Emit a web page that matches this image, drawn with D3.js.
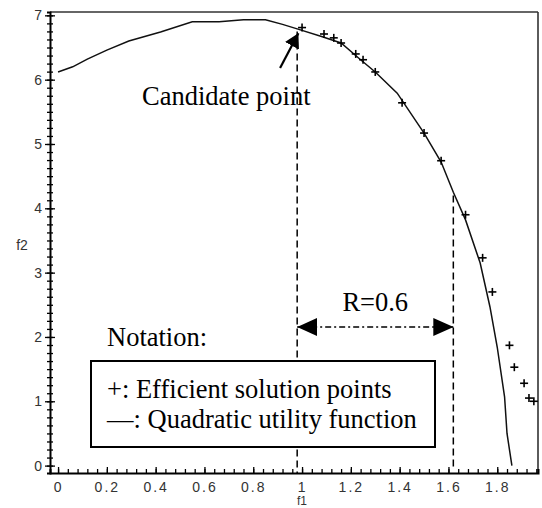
<!DOCTYPE html>
<html><head><meta charset="utf-8">
<script src="https://cdn.jsdelivr.net/npm/d3@7"></script>
<style>body{margin:0;background:#fff}</style>
</head><body>
<svg id="c" width="542" height="508"></svg>
<script>
// ---- data ----
const curveX = [0, 0.06, 0.12, 0.20, 0.29, 0.42, 0.55, 0.66, 0.76, 0.85, 0.92, 0.98, 1.08, 1.16, 1.24, 1.30, 1.39, 1.50, 1.57, 1.62, 1.67, 1.73, 1.77, 1.80, 1.83, 1.84, 1.86];
const curveY = [6.12, 6.2, 6.32, 6.46, 6.6, 6.74, 6.9, 6.9, 6.93, 6.93, 6.86, 6.79, 6.67, 6.57, 6.31, 6.12, 5.79, 5.17, 4.72, 4.25, 3.82, 3.15, 2.47, 1.84, 1.07, 0.5, 0.0];
const pointX = [1.0, 1.09, 1.13, 1.16, 1.22, 1.25, 1.30, 1.41, 1.50, 1.57, 1.67, 1.74, 1.78, 1.85, 1.87, 1.91, 1.93, 1.95];
const pointY = [6.81, 6.71, 6.65, 6.57, 6.4, 6.31, 6.12, 5.64, 5.17, 4.74, 3.9, 3.23, 2.7, 1.87, 1.53, 1.28, 1.05, 1.0];
const xTickValues = [0, 0.2, 0.4, 0.6, 0.8, 1, 1.2, 1.4, 1.6, 1.8];
const yTickValues = [0, 1, 2, 3, 4, 5, 6, 7];
const candidateX = 0.98, boundX = 1.62, radiusLabel = "R=0.6";
const arrowFrom = [0.91, 6.18], arrowTo = [0.985, 6.72];
const legendTitle = "Notation:";
const legendLines = ["+: Efficient solution points", "\u2014: Quadratic utility function"];

// ---- layout ----
const svg = d3.select("#c");
const L = 50, R = 538, T = 12, B = 473;
const x = d3.scaleLinear().domain([-0.033, 1.967]).range([L, R]);
const y = d3.scaleLinear().domain([-0.115, 7.052]).range([B, T]);
const serif = "'Liberation Serif','Times New Roman',serif";
const sans = "'Liberation Sans',Arial,sans-serif";

svg.append("defs").append("marker").attr("id","ah").attr("viewBox","0 0 20 18")
  .attr("refX",20).attr("refY",9).attr("markerWidth",20).attr("markerHeight",18)
  .attr("markerUnits","userSpaceOnUse").attr("orient","auto-start-reverse")
  .append("path").attr("d","M0,0L20,9L0,18Z").attr("fill","#000");
svg.select("defs").append("marker").attr("id","ah2").attr("viewBox","0 0 14 16")
  .attr("refX",14).attr("refY",8).attr("markerWidth",14).attr("markerHeight",16)
  .attr("markerUnits","userSpaceOnUse").attr("orient","auto")
  .append("path").attr("d","M0,0L14,8L0,16Z").attr("fill","#000");

// frame top/right
svg.append("line").attr("x1",L).attr("x2",R).attr("y1",T).attr("y2",T).attr("stroke","#333").attr("stroke-width",1.6);
svg.append("line").attr("x1",R).attr("x2",R).attr("y1",T).attr("y2",B).attr("stroke","#333").attr("stroke-width",1.6);

// axes
const xa = svg.append("g").attr("transform",`translate(0,${B})`)
  .call(d3.axisBottom(x).tickValues(d3.range(0, 1.97, 0.04)).tickSize(-4).tickFormat(""));
xa.select(".domain").attr("stroke","#000").attr("stroke-width",2);
xa.selectAll(".tick line").attr("stroke","#000").attr("stroke-width",1.3);
const xl = svg.append("g").attr("transform",`translate(0,${B})`)
  .call(d3.axisBottom(x).tickValues(xTickValues).tickSize(-6).tickPadding(9).tickFormat(d3.format("~g")));
xl.select(".domain").remove();
xl.selectAll(".tick line").attr("stroke","#000").attr("stroke-width",1.3);
xl.selectAll("text").attr("font-family",sans).attr("font-size",14).attr("letter-spacing",2).attr("fill","#333");

const ya = svg.append("g").attr("transform",`translate(${L},0)`)
  .call(d3.axisLeft(y).tickValues(d3.range(0, 7.01, 0.125)).tickSize(3).tickFormat(""));
ya.select(".domain").attr("stroke","#000").attr("stroke-width",2);
ya.selectAll(".tick line").attr("stroke","#000").attr("stroke-width",1.3).attr("x2",3).attr("x1",-3);
const yl = svg.append("g").attr("transform",`translate(${L},0)`)
  .call(d3.axisLeft(y).tickValues(yTickValues).tickSize(5).tickPadding(3).tickFormat(d3.format("d")));
yl.select(".domain").remove();
yl.selectAll(".tick line").attr("stroke","#000").attr("stroke-width",1.3).attr("x1",-5).attr("x2",5);
yl.selectAll("text").attr("font-family",sans).attr("font-size",14).attr("fill","#333");

svg.append("text").attr("x",x(1.0)).attr("y",505).attr("text-anchor","middle")
  .attr("font-family",sans).attr("font-size",12).attr("fill","#333").text("f1");
svg.append("text").attr("x",22).attr("y",250).attr("text-anchor","middle")
  .attr("font-family",sans).attr("font-size",14).attr("fill","#333").text("f2");

// curve
svg.append("path").datum(curveX.map((d,i)=>[d,curveY[i]]))
  .attr("d", d3.line().x(d=>x(d[0])).y(d=>y(d[1])))
  .attr("fill","none").attr("stroke","#111").attr("stroke-width",1.5);

// plus points
const pts = svg.append("g").selectAll("g").data(pointX.map((d,i)=>[d,pointY[i]])).join("g")
  .attr("transform",d=>`translate(${x(d[0])},${y(d[1])})`);
pts.append("line").attr("x1",-4).attr("x2",4).attr("stroke","#000").attr("stroke-width",1.6);
pts.append("line").attr("y1",-4).attr("y2",4).attr("stroke","#000").attr("stroke-width",1.6);

// dashed verticals
svg.append("line").attr("x1",x(candidateX)).attr("x2",x(candidateX)).attr("y1",y(6.75)).attr("y2",B)
  .attr("stroke","#000").attr("stroke-width",1.5).attr("stroke-dasharray","7,4");
svg.append("line").attr("x1",x(boundX)).attr("x2",x(boundX)).attr("y1",y(4.2)).attr("y2",B-6)
  .attr("stroke","#000").attr("stroke-width",1.5).attr("stroke-dasharray","7,4");

// R arrow
const ry = 327;
svg.append("line").attr("x1",x(candidateX)).attr("x2",x(boundX)).attr("y1",ry).attr("y2",ry)
  .attr("stroke","#000").attr("stroke-width",1.3).attr("stroke-dasharray","6,3,2,3")
  .attr("marker-start","url(#ah)").attr("marker-end","url(#ah)");
svg.append("text").attr("x",(x(candidateX)+x(boundX))/2).attr("y",311).attr("text-anchor","middle")
  .attr("font-family",serif).attr("font-size",26.5).attr("fill","#000").text(radiusLabel);

// candidate arrow + label
svg.append("line").attr("x1",x(arrowFrom[0])).attr("y1",y(arrowFrom[1])).attr("x2",x(arrowTo[0])).attr("y2",y(arrowTo[1]))
  .attr("stroke","#000").attr("stroke-width",2.2).attr("marker-end","url(#ah2)");
svg.append("text").attr("x",142).attr("y",105).attr("font-family",serif).attr("font-size",26.5)
  .attr("fill","#000").text("Candidate point");

// legend
svg.append("text").attr("x",107).attr("y",346).attr("font-family",serif).attr("font-size",26.5).text(legendTitle);
svg.append("rect").attr("x",91).attr("y",361).attr("width",344).attr("height",86)
  .attr("fill","#fff").attr("stroke","#000").attr("stroke-width",2);
svg.selectAll(".lg").data(legendLines).join("text").attr("class","lg")
  .attr("x",107).attr("y",(d,i)=>398+i*30).attr("font-family",serif).attr("font-size",26.5).text(d=>d);
</script>
</body></html>
